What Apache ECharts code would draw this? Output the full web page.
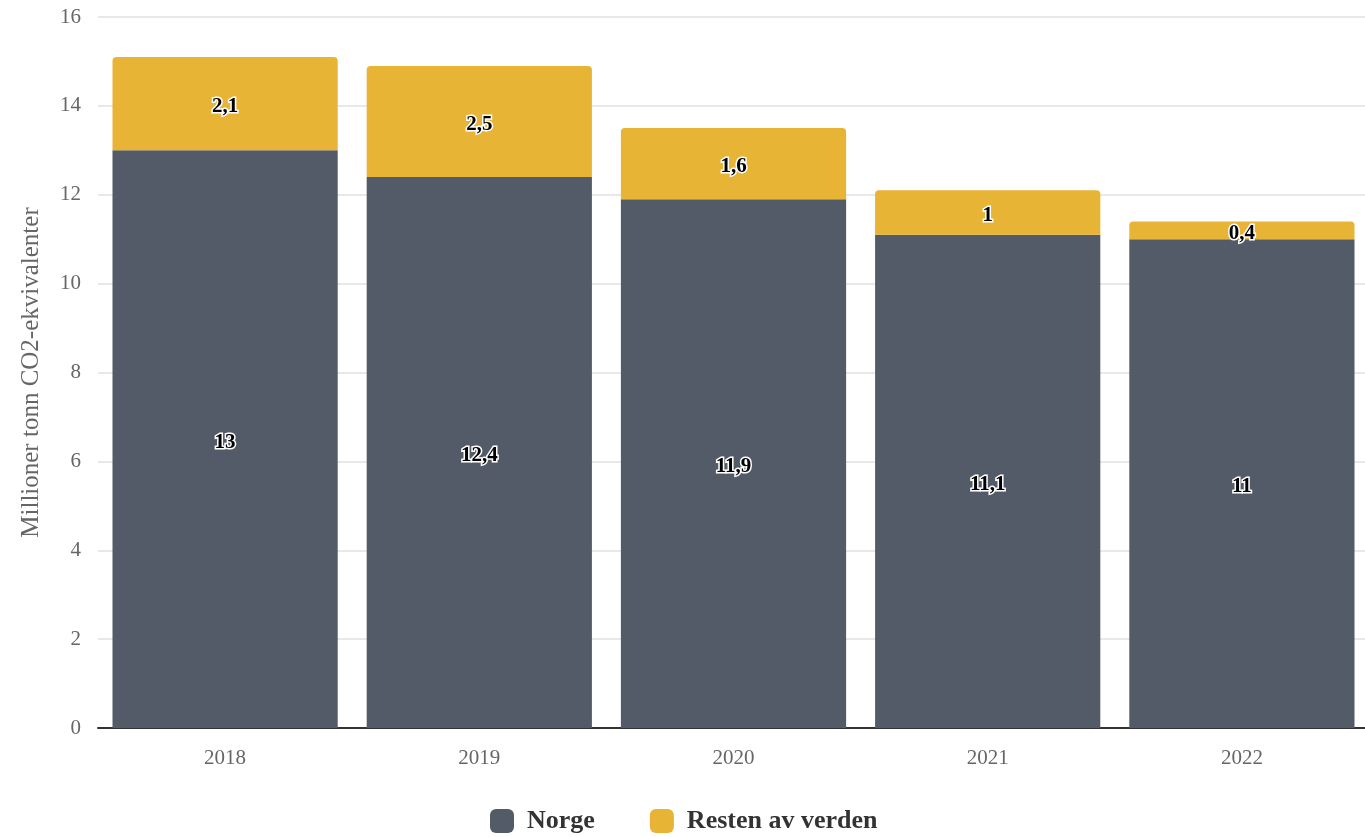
<!DOCTYPE html>
<html>
<head>
<meta charset="utf-8">
<script src="https://cdn.jsdelivr.net/npm/echarts@6/dist/echarts.min.js"></script>
<style>html,body{margin:0;padding:0;background:#fff;overflow:hidden;}#c{width:1369px;height:837px;}</style>
</head>
<body>
<div id="c"></div>
<script>
const categories = ['2018', '2019', '2020', '2021', '2022'];
const norge = [13, 12.4, 11.9, 11.1, 11];
const resten = [2.1, 2.5, 1.6, 1, 0.4];
const seriesNames = ['Norge', 'Resten av verden'];
const yAxisName = 'Millioner tonn CO2-ekvivalenter';

const fmt = p => String(p.value).replace('.', ',');
const labelStyle = {
  show: true, position: 'inside', formatter: fmt, offset: [0, 3],
  fontFamily: 'Liberation Serif', fontWeight: 'bold', fontSize: 21,
  color: '#000', textBorderColor: '#fff', textBorderWidth: 3
};
const chart = echarts.init(document.getElementById('c'));
chart.setOption({
  animation: false,
  textStyle: { fontFamily: 'Liberation Serif' },
  grid: { left: 98, right: 0, top: 17, bottom: 109 },
  legend: {
    top: 803, left: 485, itemWidth: 24, itemHeight: 24, itemGap: 55,
    icon: 'roundRect',
    textStyle: { fontFamily: 'Liberation Serif', fontSize: 26, fontWeight: 'bold', color: '#333', padding: [0, 0, 0, 8] },
    data: seriesNames
  },
  xAxis: {
    type: 'category', data: categories,
    axisLine: { lineStyle: { color: '#333', width: 2 } },
    axisTick: { show: false },
    axisLabel: { fontFamily: 'Liberation Serif', fontSize: 21, color: '#666', margin: 20 }
  },
  yAxis: {
    type: 'value', min: 0, max: 16, interval: 2,
    name: yAxisName, nameLocation: 'middle', nameGap: 54,
    nameTextStyle: { fontFamily: 'Liberation Serif', fontSize: 25, color: '#666' },
    axisLabel: { fontFamily: 'Liberation Serif', fontSize: 21, color: '#666', margin: 17 },
    splitLine: { lineStyle: { color: '#e0e0e0', width: 1.5 } }
  },
  series: [
    { name: seriesNames[0], type: 'bar', stack: 'a', data: norge, barCategoryGap: '11.4%',
      itemStyle: { color: '#545b68' }, label: labelStyle },
    { name: seriesNames[1], type: 'bar', stack: 'a', data: resten, barCategoryGap: '11.4%',
      itemStyle: { color: '#e8b436', borderRadius: [4, 4, 0, 0] }, label: labelStyle }
  ]
});
</script>
</body>
</html>
